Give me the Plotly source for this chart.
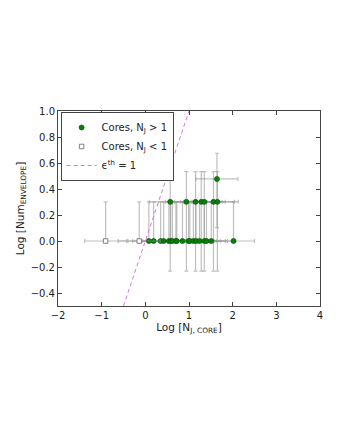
import numpy as np
import plotly.graph_objects as go

# Cores with N_J > 1
hi_logNj = [0.08, 0.19, 0.35, 0.42, 0.54, 0.58, 0.62, 0.70, 0.72, 0.85, 0.99, 1.02,
            1.10, 1.16, 1.24, 1.35, 1.40, 1.51, 2.02,
            0.57, 0.94, 1.15, 1.28, 1.35, 1.56, 1.65,
            1.64]
hi_num = [1] * 19 + [2] * 7 + [3]

# Cores with N_J < 1
lo_logNj = [-0.91, -0.14]
lo_num = [1, 1]

x_err = 0.48

# epsilon_th = 1 line (y = x)
eps_x = [-0.5, 1.0]
eps_y = [-0.5, 1.0]


def yerrs(nums):
    nums = np.array(nums, dtype=float)
    y = np.log10(nums)
    up = np.log10(nums + np.sqrt(nums)) - y
    low_val = nums - np.sqrt(nums)
    down = np.where(low_val > 0, y - np.log10(np.where(low_val > 0, low_val, 1)), 0.0)
    return y, up, down


hy, hup, hdn = yerrs(hi_num)
ly, lup, ldn = yerrs(lo_num)

ecol = "rgba(150,150,150,0.6)"

fig = go.Figure()
fig.add_trace(go.Scatter(
    x=hi_logNj, y=hy, mode="markers", name="Cores, N<sub>J</sub> > 1",
    marker=dict(color="#0b7d0b", size=5, line=dict(color="#005a00", width=0.7)),
    error_y=dict(type="data", array=hup, arrayminus=hdn, color=ecol, thickness=1.2, width=2),
    error_x=dict(type="constant", value=x_err, color=ecol, thickness=1.2, width=2),
))
fig.add_trace(go.Scatter(
    x=lo_logNj, y=ly, mode="markers", name="Cores, N<sub>J</sub> < 1",
    marker=dict(color="white", size=4.5, symbol="square", line=dict(color="#808080", width=1)),
    error_y=dict(type="data", array=lup, arrayminus=ldn, color=ecol, thickness=1.2, width=2),
    error_x=dict(type="constant", value=x_err, color=ecol, thickness=1.2, width=2),
))
fig.add_trace(go.Scatter(
    x=eps_x, y=eps_y, mode="lines", name="ϵ<sup>th</sup> = 1",
    line=dict(color="#e070e8", width=1, dash="4px,3px"),
))

axis_common = dict(
    showgrid=False, zeroline=False, showline=True, linecolor="#444", linewidth=1,
    mirror="allticks", ticks="inside", ticklen=4, tickcolor="#444",
    tickfont=dict(size=10, color="#222"), automargin=False,
)
fig.update_xaxes(range=[-2, 4], dtick=1, title=dict(text="Log [N<sub>J, CORE</sub>]",
                 font=dict(size=10.5, color="#222"), standoff=2), **axis_common)
fig.update_yaxes(range=[-0.5, 1.0], tick0=-0.4, dtick=0.2, tickformat=".1f",
                 title=dict(text="Log [Num<sub>ENVELOPE</sub>]", font=dict(size=10.5, color="#222"),
                            standoff=4), **axis_common)

fig.update_layout(
    width=324, height=424,
    margin=dict(l=50, r=12, t=103, b=126),
    paper_bgcolor="white", plot_bgcolor="white",
    font=dict(family="DejaVu Sans", size=10, color="#222"),
    showlegend=True,
    legend=dict(x=0.01, y=0.995, xanchor="left", yanchor="top",
                bordercolor="#444", borderwidth=1, bgcolor="white",
                font=dict(size=10), itemwidth=30, tracegroupgap=0),
)

fig.write_html("out.html")
